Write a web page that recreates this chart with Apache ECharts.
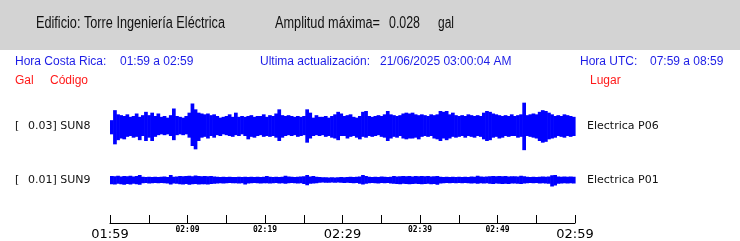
<!DOCTYPE html>
<html>
<head>
<meta charset="utf-8">
<script src="https://cdn.jsdelivr.net/npm/echarts@6/dist/echarts.min.js"></script>
<style>html,body{margin:0;padding:0;background:#fff}#c{width:740px;height:241px}</style>
</head>
<body>
<div id="c"></div>
<script>
// ---- data ----
// sample step in minutes (window 01:59 -> 02:59 = 60 min)
const STEP = 0.4;
// SUN8 envelope, units of 0.001 gal (upper positive peak, lower negative peak magnitude)
const sun8Upper = [7,19,14,13,12,14,11,12,15,11, 13,17,13,16,12,15,11,12,10,13,
  21,12,11,10,12,16,27,20,16,15, 14,15,13,14,12,10,11,12,14,11,
  16,11,12,11,12,13,11,12,12,14, 11,13,12,15,20,13,12,13,12,11,
  12,11,12,20,16,10,13,11,11,12, 10,12,14,17,15,12,13,14,11,10,
  12,17,18,12,11,12,13,12,14,18, 14,13,12,13,15,16,15,16,14,13,
  14,13,12,14,13,14,18,17,18,14, 16,13,12,13,12,14,13,12,13,12,
  16,18,17,15,14,13,12,13,12,14, 12,13,14,28,13,14,15,14,17,19,
  18,16,14,12,13,12,14,13,12,11];
const sun8Lower = [10,22,17,15,16,13,12,14,13,17, 12,18,14,18,13,11,10,11,10,12,
  17,11,10,11,10,14,24,28,18,14, 13,15,12,14,11,12,10,11,12,13,
  11,12,10,12,16,13,14,12,11,13, 12,13,12,14,18,14,12,11,12,11,
  13,12,11,20,15,12,11,12,11,13, 12,14,15,17,12,12,15,13,12,14,
  16,13,14,12,13,12,11,13,14,18, 15,13,14,12,15,16,15,15,14,16,
  13,12,13,12,15,16,18,15,17,15, 13,14,13,12,14,12,13,14,12,13,
  16,18,17,14,13,15,14,12,13,12, 12,14,13,29,12,13,14,15,18,20,
  19,16,15,14,12,13,14,12,13,12];
// SUN9 envelope, units of 0.001 gal
const sun9Upper = [1.6,1.5,1.7,1.4,1.6,1.5,1.7,1.4,1.6,2.0, 1.3,1.2,1.3,1.2,1.3,1.2,1.3,1.4,1.2,2.0,
  1.3,1.4,1.6,1.5,1.6,1.7,1.5,1.8,1.6,1.5, 1.6,1.5,1.6,1.4,1.3,1.2,1.3,1.2,1.3,1.2,
  1.2,1.3,1.2,1.3,1.2,1.3,1.2,1.3,1.2,1.3, 1.6,1.3,1.2,1.3,1.2,1.3,1.7,1.4,1.3,1.2,
  1.3,1.4,1.5,2.0,1.4,1.6,1.3,1.2,1.1,1.1, 1.0,1.1,1.0,1.1,1.2,1.1,1.2,1.3,1.2,1.3,
  1.4,2.0,1.6,1.3,1.2,1.3,1.2,1.4,1.3,1.2, 1.3,1.6,1.4,1.5,1.6,1.5,1.6,1.4,1.6,1.5,
  1.6,1.5,1.6,1.4,1.5,1.6,1.3,1.2,1.3,1.2, 1.3,1.2,1.3,1.2,1.3,1.2,1.4,1.3,1.7,1.4,
  1.3,1.4,1.5,1.6,1.5,1.6,1.5,1.6,1.4,1.5, 1.5,1.4,1.7,1.5,1.3,1.2,1.3,1.2,1.3,1.4,
  1.3,1.4,1.9,2.0,1.4,1.3,1.4,1.3,1.4,1.3];
const sun9Lower = [1.7,1.8,1.5,1.7,1.9,1.6,1.8,1.5,1.7,1.9, 1.3,1.2,1.4,1.3,1.2,1.3,1.2,1.3,1.4,1.8,
  1.4,1.5,1.7,1.8,1.6,1.9,1.7,1.6,1.8,1.7, 1.7,1.8,1.6,1.5,1.4,1.3,1.4,1.3,1.2,1.3,
  1.3,1.4,1.3,1.8,1.4,1.3,1.2,1.3,1.4,1.3, 1.3,1.4,1.3,1.2,1.4,1.3,1.5,1.3,1.2,1.3,
  1.4,1.3,1.6,2.1,1.5,1.4,1.3,1.1,1.0,1.1, 1.1,1.0,1.1,1.0,1.1,1.2,1.1,1.2,1.3,1.2,
  1.5,1.8,1.5,1.3,1.2,1.3,1.4,1.2,1.3,1.2, 1.4,1.5,1.6,1.7,1.5,1.6,1.7,1.6,1.5,1.6,
  1.7,1.6,1.5,1.7,1.6,1.9,1.4,1.3,1.2,1.3, 1.2,1.3,1.2,1.3,1.2,1.3,1.4,1.3,1.5,1.3,
  1.4,1.3,1.5,1.6,1.4,1.5,1.6,1.5,1.6,1.4, 1.4,1.5,1.6,1.4,1.3,1.2,1.3,1.2,1.4,1.3,
  1.4,1.5,2.6,2.2,1.5,1.4,1.3,1.4,1.3,1.4];
const tickLabels = ['01:59','02:09','02:19','02:29','02:39','02:49','02:59'];
const bigTicks = ['01:59','02:29','02:59'];
const stations = [
  {scale:'0.03', code:'SUN8', place:'Electrica P06'},
  {scale:'0.01', code:'SUN9', place:'Electrica P01'}
];
const header = {building:'Edificio: Torre Ingeniería Eléctrica', ampLabel:'Amplitud máxima=', amp:'0.028', unit:'gal'};
const info = {crLabel:'Hora Costa Rica:', crRange:'01:59 a 02:59', updLabel:'Ultima actualización:', upd:'21/06/2025 03:00:04 AM', utcLabel:'Hora UTC:', utcRange:'07:59 a 08:59'};

// ---- build ----
function toData(up, lo){ return up.map((u,i)=>[i*STEP, u, lo[i]]); }
function renderWave(params, api){
  const t = api.value(0);
  const p1 = api.coord([t, api.value(1)]);
  const p2 = api.coord([t + STEP, -api.value(2)]);
  return {type:'rect', shape:{x:p1[0], y:p1[1], width:p2[0]-p1[0]+0.6, height:p2[1]-p1[1]},
    style:{fill:'#0000ff'}};
}
const BLUE = '#1d1de6', RED = '#ff1a1a';
const txt = (text, x, y, font, fill) => ({type:'text', x, y, silent:true,
  style:{text, font, fill, verticalAlign:'middle', align:'left'}});
// condensed header text: scale Liberation Sans horizontally to the measured width in the reference
const mctx = document.createElement('canvas').getContext('2d');
const HFONT = '16px "Liberation Sans"';
function narrow(text, x, y, targetW){
  mctx.font = HFONT;
  const w = mctx.measureText(text).width;
  const el = txt(text, x, y, HFONT, '#111');
  el.scaleX = targetW / w;
  return el;
}

const chart = echarts.init(document.getElementById('c'), null, {renderer:'canvas'});
const hiddenX = (g) => ({gridIndex:g, type:'value', min:0, max:60, show:false});
chart.setOption({
  animation:false,
  backgroundColor:'#ffffff',
  grid:[
    {left:110, right:165, top:101, height:50},
    {left:110, right:165, top:155, height:50},
    {left:110, right:165, top:219, height:8}
  ],
  xAxis:[hiddenX(0), hiddenX(1),
    {gridIndex:2, type:'value', min:0, max:60, interval:5, position:'bottom',
     axisLine:{show:true, lineStyle:{color:'#000', width:1}},
     axisTick:{show:true, inside:true, length:8, lineStyle:{color:'#000', width:1}},
     splitLine:{show:false},
     axisLabel:{show:true, margin:2, showMinLabel:true, showMaxLabel:true, hideOverlap:false,
       verticalAlign:'top',
       formatter:(v)=>{ if (v % 10 !== 0) return ''; const s = tickLabels[v/10];
         return bigTicks.includes(s) ? '{b|'+s+'}' : '{s|'+s+'}'; },
       rich:{ b:{fontFamily:'DejaVu Sans', fontSize:13, color:'#000', padding:[3,0,0,0]},
              s:{fontFamily:'DejaVu Sans Mono', fontWeight:'bold', fontSize:8, color:'#000', padding:[1,0,0,0]} } }
    }],
  yAxis:[
    {gridIndex:0, type:'value', min:-30, max:30, show:false},
    {gridIndex:1, type:'value', min:-10, max:10, show:false},
    {gridIndex:2, type:'value', min:0, max:1, show:false}
  ],
  series:[
    {type:'custom', xAxisIndex:0, yAxisIndex:0, renderItem:renderWave, data:toData(sun8Upper, sun8Lower), silent:true},
    {type:'custom', xAxisIndex:1, yAxisIndex:1, renderItem:renderWave, data:toData(sun9Upper, sun9Lower), silent:true}
  ],
  graphic:[
    {type:'rect', z:-10, silent:true, shape:{x:0, y:0, width:740, height:50}, style:{fill:'#d3d3d3'}},
    narrow(header.building, 36, 24, 189),
    narrow(header.ampLabel, 275, 24, 105),
    narrow(header.amp, 389, 24, 31),
    narrow(header.unit, 438, 24, 16),
    txt(info.crLabel, 15, 62, '12px "Liberation Sans"', BLUE),
    txt(info.crRange, 120, 62, '12px "Liberation Sans"', BLUE),
    txt(info.updLabel, 260, 62, '12px "Liberation Sans"', BLUE),
    txt(info.upd, 380, 62, '12px "Liberation Sans"', BLUE),
    txt(info.utcLabel, 580, 62, '12px "Liberation Sans"', BLUE),
    txt(info.utcRange, 650, 62, '12px "Liberation Sans"', BLUE),
    txt('Gal', 15, 81, '12px "Liberation Sans"', RED),
    txt('Código', 50, 81, '12px "Liberation Sans"', RED),
    txt('Lugar', 590, 81, '12px "Liberation Sans"', RED),
    txt('[', 15, 126, '11px "DejaVu Sans"', '#111'),
    txt(stations[0].scale + '] ' + stations[0].code, 28, 126, '11px "DejaVu Sans"', '#111'),
    txt(stations[0].place, 587, 126, '11px "DejaVu Sans"', '#111'),
    txt('[', 15, 180, '11px "DejaVu Sans"', '#111'),
    txt(stations[1].scale + '] ' + stations[1].code, 28, 180, '11px "DejaVu Sans"', '#111'),
    txt(stations[1].place, 587, 180, '11px "DejaVu Sans"', '#111')
  ]
});
</script>
</body>
</html>
